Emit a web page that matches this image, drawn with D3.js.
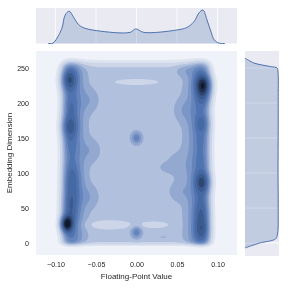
<!DOCTYPE html>
<html>
<head>
<meta charset="utf-8">
<script src="https://cdn.jsdelivr.net/npm/d3@7"></script>
<style>
body { margin: 0; background: #fff; }
svg { will-change: transform; }
text { font-family: "Liberation Sans", Arial, sans-serif; fill: #262626; }
</style>
</head>
<body>
<div id="chart-area"></div>
<script>
// marginal curves
const topX = [-0.109, -0.103, -0.098, -0.092, -0.088, -0.083, -0.078, -0.072, -0.066, -0.049, -0.008, -0.001, 0.009, 0.05, 0.062, 0.071, 0.077, 0.082, 0.087, 0.092, 0.096, 0.102, 0.109];
const topD = [0, 0.1, 1.6, 4.4, 8.2, 9.3, 7.7, 5.6, 4.6, 3.7, 3.2, 4.2, 3.2, 3.9, 4.6, 6.3, 8.8, 9.65, 6.8, 3.3, 1.0, 0.1, 0];
const rightY = [264, 261, 257, 252, 250, 244, 204, 161, 100, 50, 13, 6, 0, -7];
const rightD = [0, 0.4, 1.0, 2.8, 3.5, 3.6, 3.62, 3.62, 3.6, 3.62, 3.55, 3.35, 1.6, 0];

const xTicks = [-0.10, -0.05, 0, 0.05, 0.10];
const yTicks = [0, 50, 100, 150, 200, 250];

// density blobs: centre, spread, height
const blobX = [-0.0846, -0.082, -0.0835, -0.082, -0.0796, -0.081, -0.083, -0.087,
               0.0833, 0.0833, 0.082, 0.081, 0.081, 0.082, 0.081, 0.081, 0.081,
               0, 0,
               -0.058, -0.056, -0.058, 0.058, 0.058, 0.05, 0.036, 0.052,
               0, -0.035, 0.023, 0.033];
const blobY = [233, 194, 166, 140, 90, 60, 45, 27,
               227, 211, 170, 144, 119, 87, 43, 18, 70,
               150, 15.5,
               204, 132, 66, 247, 190, 112, 108, 73,
               230, 26, 26, 8.5];
const blobSx = [0.0075, 0.0075, 0.0075, 0.0075, 0.0085, 0.0085, 0.0075, 0.0055,
                0.0075, 0.0075, 0.0075, 0.007, 0.0075, 0.0075, 0.0075, 0.0075, 0.0075,
                0.0045, 0.0045,
                0.009, 0.009, 0.009, 0.008, 0.009, 0.012, 0.007, 0.009,
                0.023, 0.022, 0.014, 0.005];
const blobSy = [11, 11, 11, 9, 16, 14, 14, 8,
                10, 11, 10, 9, 9, 11, 14, 12, 20,
                6, 6,
                12, 12, 12, 6, 12, 14, 5, 10,
                3.6, 5, 3.8, 1];
const blobH = [3.6, 1.1, 3, 0.6, 1.6, 1.2, 1.2, 7,
               5, 2.2, 1.8, 0.6, 0.6, 3.6, 2, 2.7, 0.4,
               3, 3,
               1, 1, 1, 0.8, 1, 0.8, 0.5, 1,
               -1, -1.2, -1, 0.8];

// flat sheet between the two columns, and the rails running along the columns
const sheetX = [-0.09, 0.089];
const sheetY = [-2.1, 257.6];
const sheetHeight = 3.5;
const railX = [-0.075, -0.082, 0.072, 0.081];
const railSx = [0.011, 0.0085, 0.011, 0.0085];
const railH = [1.2, 2.2, 1.2, 2.2];

const levels = [0.9, 1.8, 3, 4, 4.9, 5.8, 6.7, 7.6, 8.6, 9.6, 10.6, 11.6];
const levelColors = ["#dfe5f0", "#ccd6e8", "#b0c0dd", "#93a9d0", "#7a96c6", "#6484bb", "#5074b0", "#4669a3", "#3b5a8e", "#2e466f", "#1f2f4c", "#10182a"];

const svg = d3.select("#chart-area").append("svg").attr("width", 288).attr("height", 288);

const mainLeft = 36, mainRight = 237, mainTop = 51, mainBottom = 255;
const x = d3.scaleLinear().domain([-0.124, 0.124]).range([mainLeft, mainRight]);
const y = d3.scaleLinear().domain([-17.1, 274.3]).range([mainBottom, mainTop]);

// joint panel
svg.append("rect").attr("x", mainLeft).attr("y", mainTop).attr("width", mainRight - mainLeft).attr("height", mainBottom - mainTop).attr("fill", "#eff2f8");

const w = mainRight - mainLeft, h = mainBottom - mainTop;
const grid = new Float64Array(w * h);
for (let j = 0; j < h; j++) {
    const vy = y.invert(mainTop + j + 0.5);
    const edgeY = 1 / (1 + Math.exp(-(vy - sheetY[0]) / 2)) / (1 + Math.exp((vy - sheetY[1]) / 3.7));
    for (let i = 0; i < w; i++) {
        const vx = x.invert(mainLeft + i + 0.5);
        const edgeX = 1 / (1 + Math.exp(-(vx - sheetX[0]) / 0.003)) / (1 + Math.exp((vx - sheetX[1]) / 0.003));
        let d = sheetHeight * edgeX;
        railX.forEach((rx, k) => {
            const dx = (vx - rx) / railSx[k];
            d += railH[k] * Math.exp(-0.5 * dx * dx);
        });
        d *= edgeY;
        blobX.forEach((bx, k) => {
            const dx = (vx - bx) / blobSx[k], dy = (vy - blobY[k]) / blobSy[k];
            d += blobH[k] * Math.exp(-0.5 * (dx * dx + dy * dy));
        });
        grid[j * w + i] = d;
    }
}

const contours = d3.contours().size([w, h]).thresholds(levels)(grid);
svg.append("g")
    .attr("transform", "translate(" + mainLeft + ", " + mainTop + ")")
    .selectAll("path")
    .data(contours)
    .enter()
    .append("path")
    .attr("d", d3.geoPath())
    .attr("fill", (d, i) => levelColors[i]);

// axes
const xAxisCall = d3.axisBottom(x).tickValues(xTicks).tickSize(0).tickPadding(7).tickFormat(d3.format(".2f"));
const yAxisCall = d3.axisLeft(y).tickValues(yTicks).tickSize(0).tickPadding(7);

const xAxis = svg.append("g").attr("transform", "translate(0, " + mainBottom + ")").call(xAxisCall);
const yAxis = svg.append("g").attr("transform", "translate(" + mainLeft + ", 0)").call(yAxisCall);
xAxis.select(".domain").remove();
yAxis.select(".domain").remove();
xAxis.selectAll("text").attr("font-size", "7.1px").style("font-family", "'Liberation Sans'").attr("fill", "#262626");
yAxis.selectAll("text").attr("font-size", "7.1px").style("font-family", "'Liberation Sans'").attr("fill", "#262626");

svg.append("text")
    .attr("x", (mainLeft + mainRight) / 2)
    .attr("y", 278.5)
    .attr("font-size", "8px")
    .attr("text-anchor", "middle")
    .text("Floating-Point Value");

svg.append("text")
    .attr("transform", "translate(12, " + (mainTop + mainBottom) / 2 + ") rotate(-90)")
    .attr("font-size", "8px")
    .attr("text-anchor", "middle")
    .text("Embedding Dimension");

// top marginal
const topPanel = { y0: 8, y1: 43.5 };
const topScale = d3.scaleLinear().domain([0, 10.23]).range([topPanel.y1, topPanel.y0]);
svg.append("rect").attr("x", mainLeft).attr("y", topPanel.y0).attr("width", w).attr("height", topPanel.y1 - topPanel.y0).attr("fill", "#eaeaf2");
svg.append("g").selectAll("line").data(xTicks).enter().append("line")
    .attr("x1", d => x(d)).attr("x2", d => x(d))
    .attr("y1", topPanel.y0).attr("y2", topPanel.y1)
    .attr("stroke", "#fff").attr("stroke-width", 0.8);

const topPts = d3.zip(topX, topD);
svg.append("path").datum(topPts)
    .attr("d", d3.area().x(d => x(d[0])).y0(topPanel.y1).y1(d => topScale(d[1])).curve(d3.curveCatmullRom))
    .attr("fill", "#4c72b0").attr("fill-opacity", 0.25);
svg.append("path").datum(topPts)
    .attr("d", d3.line().x(d => x(d[0])).y(d => topScale(d[1])).curve(d3.curveCatmullRom))
    .attr("fill", "none").attr("stroke", "#4c72b0").attr("stroke-width", 1);

// right marginal
const rightPanel = { x0: 245, x1: 279 };
const rightScale = d3.scaleLinear().domain([0, 3.71]).range([rightPanel.x0, rightPanel.x1]);
svg.append("rect").attr("x", rightPanel.x0).attr("y", mainTop).attr("width", rightPanel.x1 - rightPanel.x0).attr("height", mainBottom - mainTop + 1).attr("fill", "#eaeaf2");
svg.append("g").selectAll("line").data(yTicks).enter().append("line")
    .attr("x1", rightPanel.x0).attr("x2", rightPanel.x1)
    .attr("y1", d => y(d)).attr("y2", d => y(d))
    .attr("stroke", "#fff").attr("stroke-width", 0.8);

const rightPts = d3.zip(rightY, rightD);
svg.append("path").datum(rightPts)
    .attr("d", d3.area().y(d => y(d[0])).x0(rightPanel.x0).x1(d => rightScale(d[1])).curve(d3.curveCatmullRom))
    .attr("fill", "#4c72b0").attr("fill-opacity", 0.25);
svg.append("path").datum(rightPts)
    .attr("d", d3.line().y(d => y(d[0])).x(d => rightScale(d[1])).curve(d3.curveCatmullRom))
    .attr("fill", "none").attr("stroke", "#4c72b0").attr("stroke-width", 1);
</script>
</body>
</html>
